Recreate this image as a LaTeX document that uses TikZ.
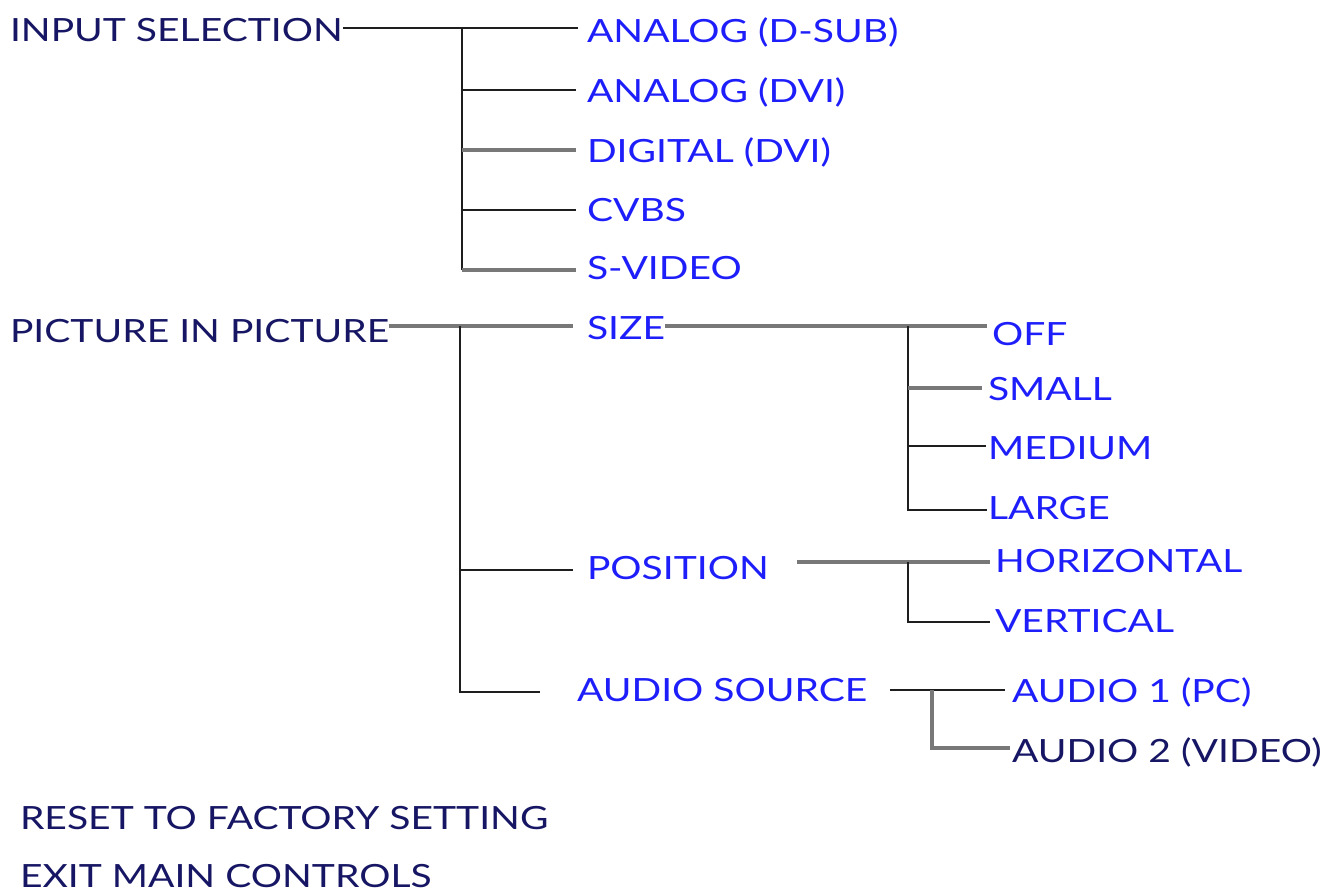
\documentclass[tikz,border=0pt]{standalone}
\usepackage{fontspec}
\setmainfont{Lato}[FakeStretch=1.22]
\definecolor{navy}{RGB}{22,22,100}
\definecolor{lblue}{RGB}{30,30,250}
\definecolor{lblack}{RGB}{30,30,30}
\definecolor{lgray}{RGB}{120,120,120}
\begin{document}
\begin{tikzpicture}[x=1pt,y=-1pt,
  every node/.style={inner sep=0pt,outer sep=0pt,anchor=base west,font=\fontsize{32}{36}\selectfont},
  top/.style={text=navy},
  sub/.style={text=lblue},
  blk/.style={draw=lblack,line width=2.8pt},
  gry/.style={draw=lgray,line width=3.8pt},
  ]
\useasboundingbox (0,0) rectangle (1332,894);
% level 0
\node[top] (insel) at (10,41) {INPUT SELECTION};
\node[top] (pip) at (10,342) {PICTURE IN PICTURE};
\node[top] (reset) at (20,829) {RESET TO FACTORY SETTING};
\node[top] (exit) at (20,887) {EXIT MAIN CONTROLS};
% input selection children
\node[sub] (dsub) at (587,42) {ANALOG (D-SUB)};
\node[sub] (advi) at (587,102) {ANALOG (DVI)};
\node[sub] (ddvi) at (587,162) {DIGITAL (DVI)};
\node[sub] (cvbs) at (587,221) {CVBS};
\node[sub] (svid) at (587,279) {S-VIDEO};
% pip children
\node[sub] (size) at (587,339) {SIZE};
\node[sub] (pos) at (587,579) {POSITION};
\node[sub] (aud) at (577,701) {AUDIO SOURCE};
% size children
\node[sub] (off) at (992,345) {OFF};
\node[sub] (small) at (988,400) {SMALL};
\node[sub] (med) at (988,459) {MEDIUM};
\node[sub] (large) at (988,519) {LARGE};
% position children
\node[sub] (hor) at (995,572) {HORIZONTAL};
\node[sub] (ver) at (995,632) {VERTICAL};
% audio children
\node[sub] (a1) at (1012,702) {AUDIO 1 (PC)};
\node[top] (a2) at (1012,762) {AUDIO 2 (VIDEO)};
% coordinates
\coordinate (j1) at (462,28);
\coordinate (e1) at (578,28);
\coordinate (b2) at (462,90);  \coordinate (e2) at (576,90);
\coordinate (b3) at (462,150); \coordinate (e3) at (576,150);
\coordinate (b4) at (462,210); \coordinate (e4) at (576,210);
\coordinate (b5) at (462,270); \coordinate (e5) at (576,270);
\coordinate (j2) at (460,326); \coordinate (ps) at (573,326);
\coordinate (b6) at (460,570); \coordinate (e6) at (573,570);
\coordinate (b7) at (460,692); \coordinate (e7) at (540,692);
\coordinate (j3) at (908,326); \coordinate (e8) at (987,326);
\coordinate (b9) at (908,388); \coordinate (e9) at (982,388);
\coordinate (b10) at (908,446); \coordinate (e10) at (986,446);
\coordinate (b11) at (908,510); \coordinate (e11) at (987,510);
\coordinate (q0) at (797,562);
\coordinate (j4) at (908,562); \coordinate (e12) at (990,562);
\coordinate (b13) at (908,622); \coordinate (e13) at (990,622);
\coordinate (r0) at (890,690);
\coordinate (j5) at (932,690); \coordinate (e14) at (1005,690);
\coordinate (b15) at (932,748); \coordinate (e15) at (1010,748);
% input selection tree
\draw[blk] (insel.east |- j1) -- (j1) -- (e1);
\draw[blk] (j1) -- (b5);
\draw[blk] (b2) -- (e2);
\draw[gry] (b3) -- (e3);
\draw[blk] (b4) -- (e4);
\draw[gry] (b5) -- (e5);
% pip tree
\draw[gry] (pip.east |- j2) -- (ps);
\draw[blk] (j2) -- (b7) -- (e7);
\draw[blk] (b6) -- (e6);
% size tree
\draw[gry] (size.east |- j3) -- (e8);
\draw[blk] (j3) -- (b11) -- (e11);
\draw[gry] (b9) -- (e9);
\draw[blk] (b10) -- (e10);
% position tree
\draw[gry] (q0) -- (e12);
\draw[blk] (j4) -- (b13) -- (e13);
% audio tree
\draw[blk] (r0) -- (e14);
\draw[gry] (j5) -- (b15) -- (e15);
\end{tikzpicture}
\end{document}
